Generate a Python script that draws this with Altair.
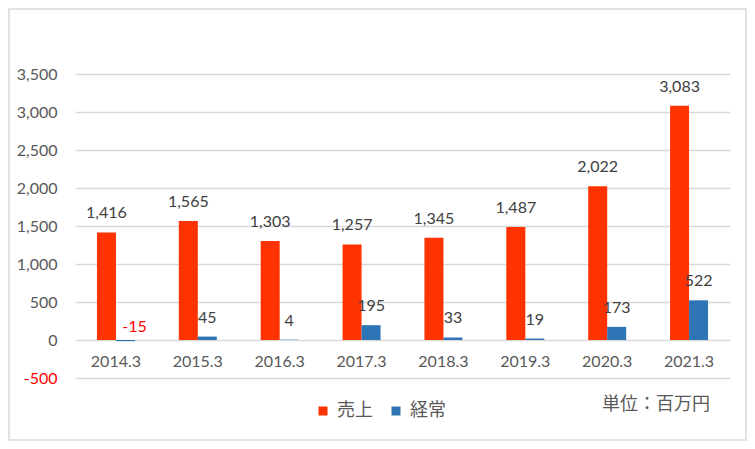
import altair as alt
import pandas as pd

categories = ["2014.3", "2015.3", "2016.3", "2017.3", "2018.3", "2019.3", "2020.3", "2021.3"]
sales = [1416, 1565, 1303, 1257, 1345, 1487, 2022, 3083]
ordinary = [-15, 45, 4, 195, 33, 19, 173, 522]
series_names = ["売上", "経常"]
series_colors = ["#FF3300", "#2E75B6"]
y_ticks = [-500, 0, 500, 1000, 1500, 2000, 2500, 3000, 3500]
unit_text = "単位：百万円"

rows = []
for c, s, o in zip(categories, sales, ordinary):
    rows.append({"cat": c, "series": series_names[0], "value": s})
    rows.append({"cat": c, "series": series_names[1], "value": o})
df = pd.DataFrame(rows)

NUM_FONT = "Lato"
JP_FONT = "Noto Sans CJK JP"
FMT = "replace(format(datum.value, ',.0f'), '\u2212', '-')"

x_axis = alt.Axis(
    title=None, domain=False, ticks=False, grid=False, offset=-38,
    labelPadding=13, labelFont=NUM_FONT, labelFontSize=16,
    labelColor="#595959", labelAngle=0,
)
y_axis = alt.Axis(
    title=None, values=y_ticks, labelExpr=FMT, labelOverlap=False,
    domain=False, ticks=False,
    grid=True, gridColor="#D9D9D9", gridWidth=1.3,
    labelPadding=18, labelFont=NUM_FONT, labelFontSize=16,
    labelColor=alt.condition("datum.value < 0", alt.value("#FF0000"), alt.value("#595959")),
)
x_scale = alt.Scale(paddingInner=0.536, paddingOuter=0.268)
y_scale = alt.Scale(domain=[-500, 3500], nice=False, zero=False)


def x_enc():
    return alt.X("cat:N", sort=categories, scale=x_scale, axis=x_axis)


def y_enc(field):
    return alt.Y(field, scale=y_scale, axis=y_axis)


xoff = alt.XOffset("series:N", sort=series_names)

base = alt.Chart(df).transform_calculate(label=FMT, zero="0")

bars = base.mark_bar().encode(
    x=x_enc(),
    xOffset=xoff,
    y=y_enc("value:Q"),
    color=alt.Color(
        "series:N",
        scale=alt.Scale(domain=series_names, range=series_colors),
        legend=alt.Legend(
            title=None, orient="none", direction="horizontal",
            legendX=239, legendY=328, symbolType="square", symbolSize=81,
            symbolStrokeWidth=0, labelFont=JP_FONT, labelFontSize=18,
            labelColor="#595959", labelOffset=5, columnPadding=14,
        ),
    ),
)

pos_labels = base.transform_filter("datum.value >= 0").mark_text(
    baseline="middle", dy=-19, font=NUM_FONT, fontSize=16, color="#404040"
).encode(
    x=x_enc(),
    xOffset=xoff,
    y=y_enc("value:Q"),
    text="label:N",
)

neg_labels = base.transform_filter("datum.value < 0").mark_text(
    baseline="middle", dy=-13, dx=9, font=NUM_FONT, fontSize=16, color="#FF0000"
).encode(
    x=x_enc(),
    xOffset=xoff,
    y=y_enc("zero:Q"),
    text="label:N",
)

one = alt.Chart(pd.DataFrame({"t": [unit_text]}))
unit = one.mark_text(
    align="left", baseline="middle", font=JP_FONT, fontSize=18, color="#595959"
).encode(x=alt.value(527), y=alt.value(331), text="t:N")

border = one.mark_rect(fill=None, stroke="#D9D9D9", strokeWidth=1.5).encode(
    x=alt.value(-66), x2=alt.value(671), y=alt.value(-65), y2=alt.value(366)
)

chart = alt.layer(border, bars, pos_labels, neg_labels, unit).properties(
    width=655, height=304,
    padding={"left": 67, "top": 66, "right": 17, "bottom": 63},
    autosize=alt.AutoSizeParams(type="none"),
).configure_view(stroke=None)

chart.save("out.html", embed_options={"renderer": "svg", "actions": False})
